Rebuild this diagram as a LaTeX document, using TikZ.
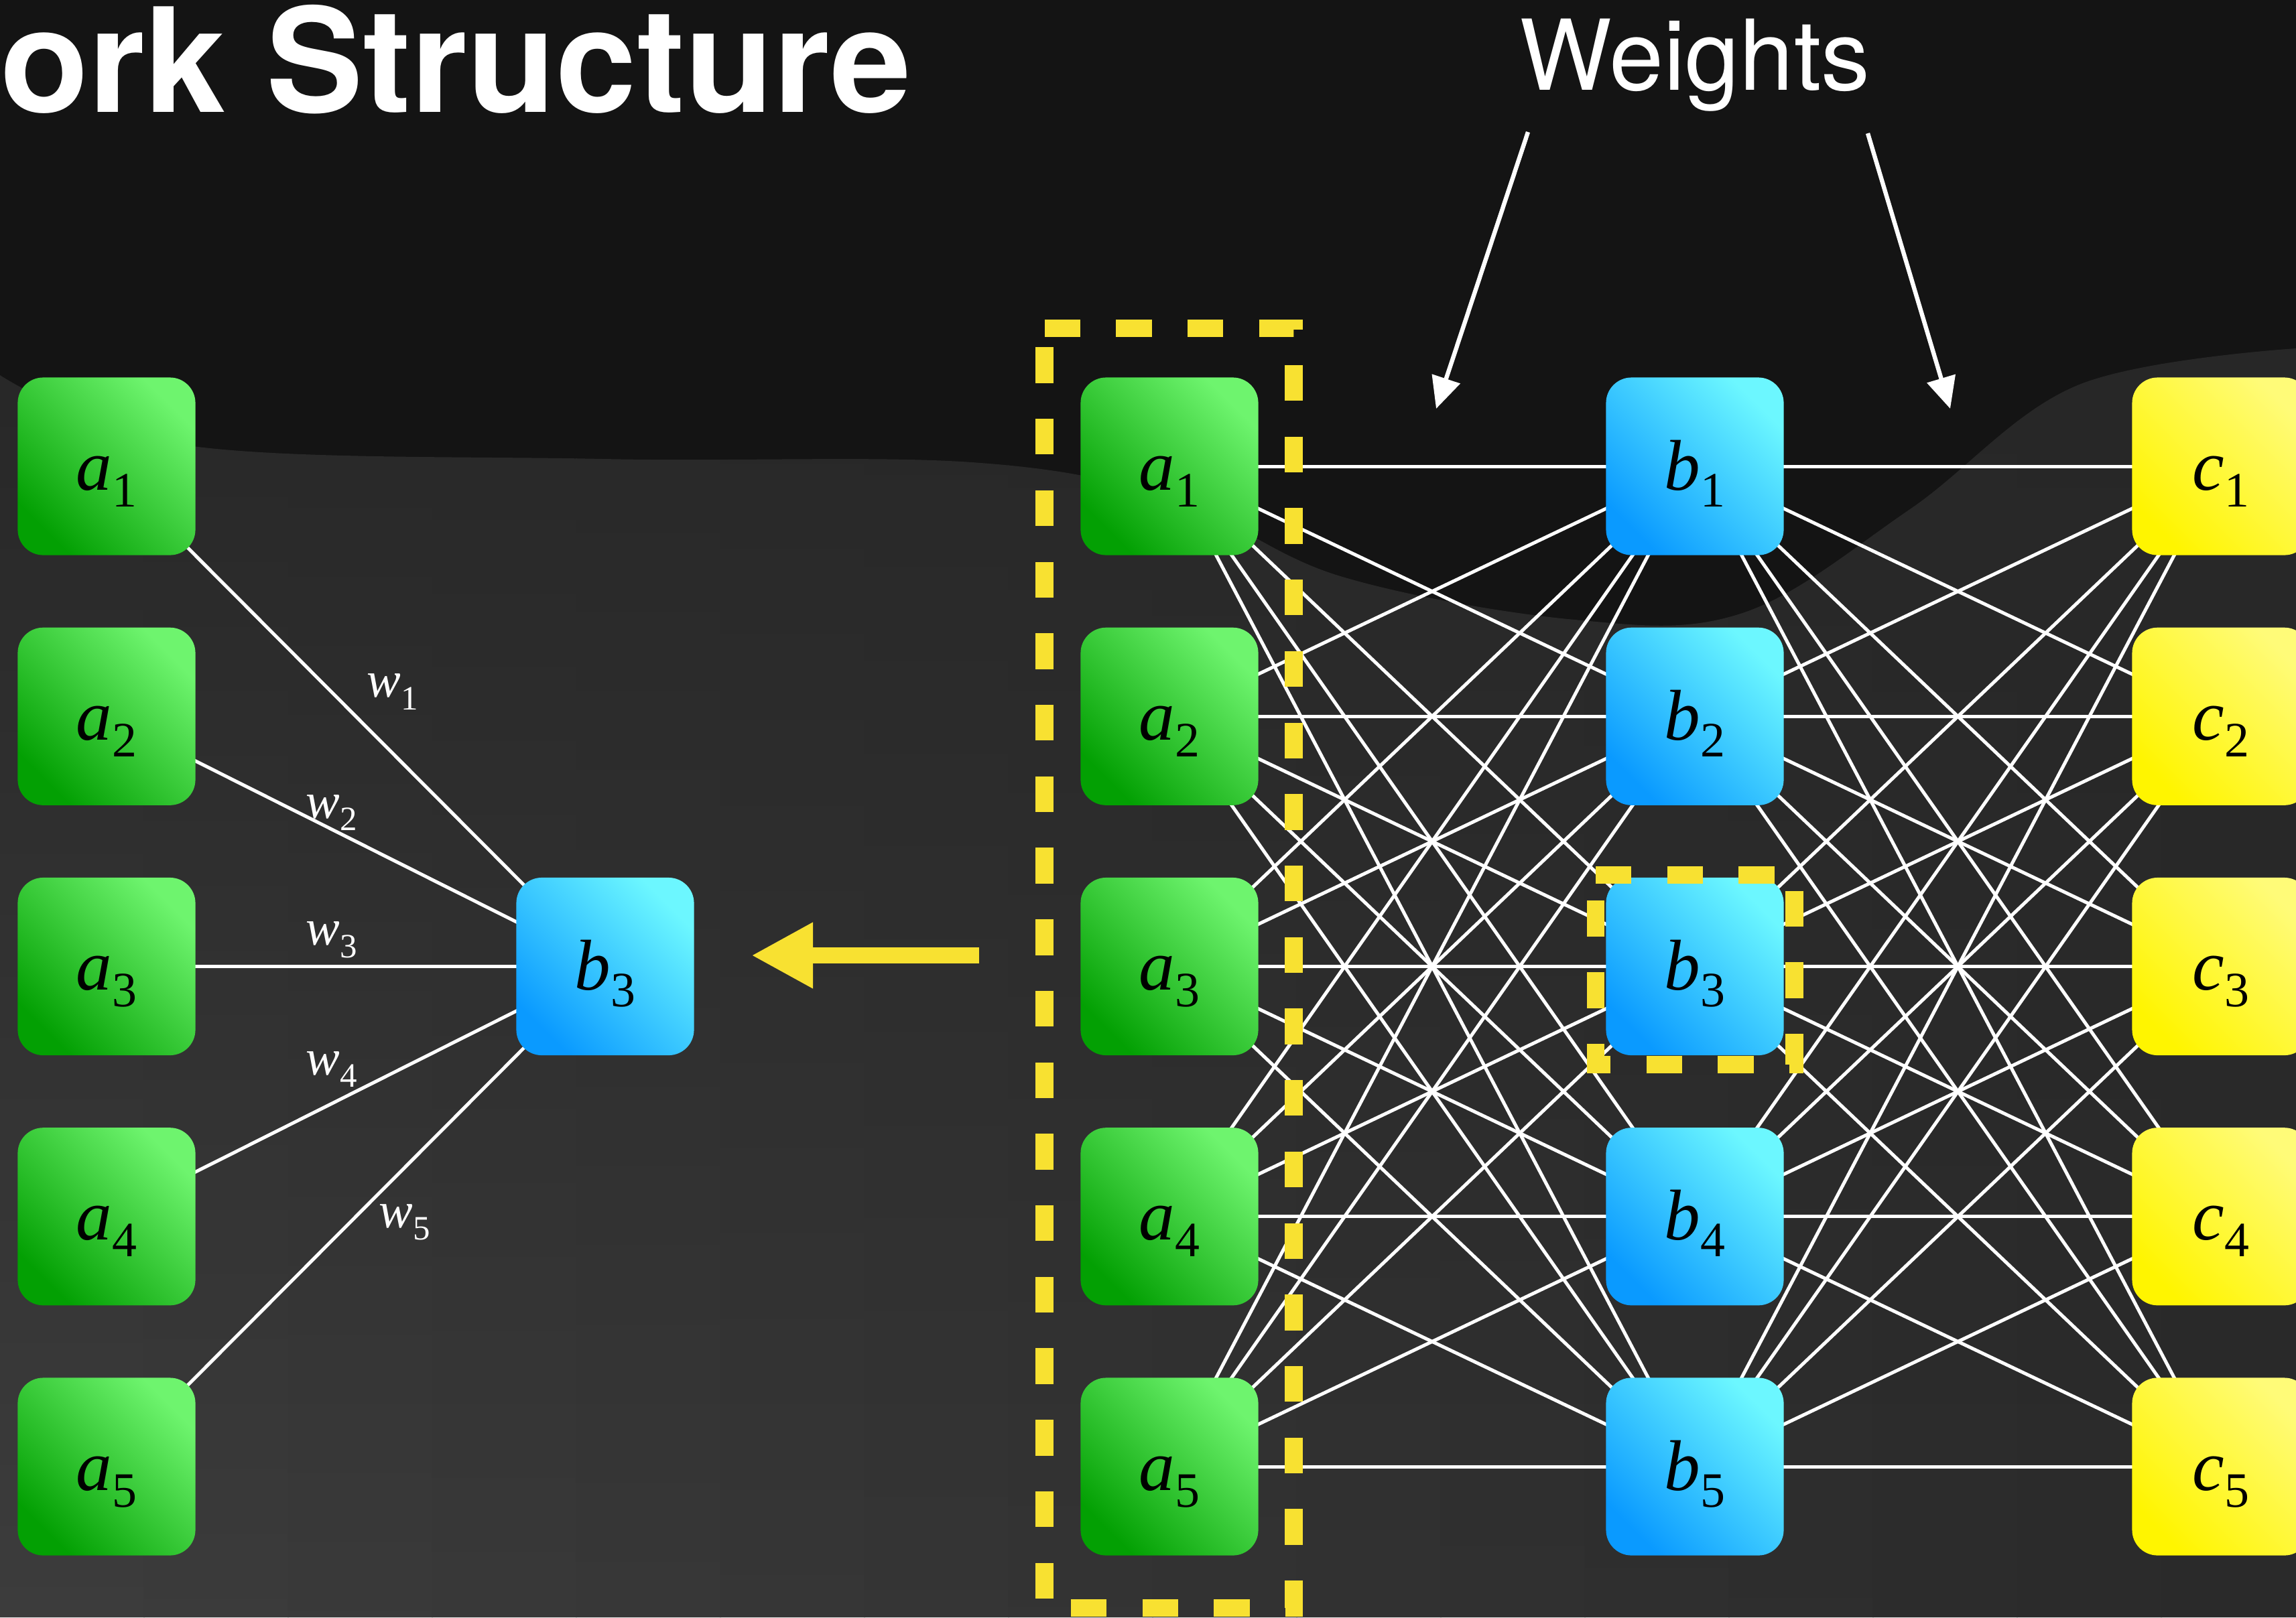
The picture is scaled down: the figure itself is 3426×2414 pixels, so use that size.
\documentclass[tikz,border=0pt]{standalone}
\usepackage{fontspec}
\setmainfont{Liberation Serif}
\newfontfamily\herosfont{TeX Gyre Heros}
\usetikzlibrary{arrows.meta}
\definecolor{bgdark}{HTML}{141414}
\definecolor{bgA}{HTML}{272727}
\definecolor{bgML}{HTML}{444444}
\definecolor{bgMR}{HTML}{3E3E3E}
\definecolor{bgBL}{HTML}{3C3C3C}
\definecolor{bgBR}{HTML}{2A2A2A}
\definecolor{gtop}{HTML}{6EF46E}
\definecolor{gbot}{HTML}{03A003}
\definecolor{btop}{HTML}{6CF7FF}
\definecolor{bbot}{HTML}{0A9AFF}
\definecolor{ytop}{HTML}{FFFB78}
\definecolor{ybot}{HTML}{FFF500}
\definecolor{hiyel}{HTML}{F8E131}
\pgfdeclarelayer{bglayer}
\pgfdeclarelayer{edgelayer}
\pgfsetlayers{bglayer,edgelayer,main}
\newcommand{\boxlab}[2]{{\fontsize{30.5}{32}\selectfont\itshape #1}{\raisebox{-7.1pt}{\fontsize{21}{22}\selectfont #2}}}
\newcommand{\wtlab}[1]{{\fontsize{21.6}{23}\selectfont\itshape w}{\raisebox{-5.3pt}{\fontsize{14.5}{15}\selectfont #1}}}
\tikzset{
  unitbox/.style={minimum width=2.65cm, minimum height=2.65cm, inner sep=0pt,
    rounded corners=0.38cm, text height=0.7cm, text depth=0pt, text=black},
  greenbox/.style={unitbox, top color=gtop, bottom color=gbot, shading angle=-45},
  bluebox/.style={unitbox, top color=btop, bottom color=bbot, shading angle=-45},
  yellowbox/.style={unitbox, top color=ytop, bottom color=ybot, shading angle=-45},
  wire/.style={draw=white, line width=0.05cm},
  seldash/.style={draw=hiyel, line width=0.265cm, dash pattern=on 0.5333cm off 0.5333cm, line join=miter},
  wlabel/.style={anchor=base west, inner sep=0pt, text=white},
  pointer/.style={draw=white, line width=0.064cm, -{Triangle[length=0.47cm, width=0.43cm]}},
}
\begin{document}
\begin{tikzpicture}[x=0.01cm, y=-0.01cm]
\useasboundingbox (0,0) rectangle (3426,2414);
\begin{pgfonlayer}{bglayer}
  \fill[bgdark] (0,0) rectangle (3426,2414);
  \begin{scope}
    \clip (0,2414) -- plot[smooth, tension=0.6] coordinates {(0,560) (280,665) (900,685) (1450,690) (1750,745) (2000,860) (2350,925) (2600,915) (2850,760) (3100,575) (3426,520)} -- (3426,2414) -- cycle;
    \foreach \k in {0,...,15} {
      \pgfmathsetmacro\pc{100-\k*100/15}
      \shade[top color=bgA, middle color=bgML!\pc!bgMR, bottom color=bgBL!\pc!bgBR]
        (\k*215-1,500) rectangle (\k*215+216,2414);
    }
  \end{scope}
\end{pgfonlayer}

% title texts
\node[anchor=base west, inner sep=0pt, text=white, font=\herosfont\bfseries\fontsize{61.5}{63}\selectfont] (title) at (0,167) {ork Structure};
\node[anchor=base west, inner sep=0pt, text=white, font=\herosfont\fontsize{41.5}{43}\selectfont] (weights) at (2267,134) {Weights};

% left small network
\foreach \i/\y in {1/696,2/1069.25,3/1442.5,4/1815.75,5/2189} {
  \node[greenbox] (la\i) at (159,\y) {\boxlab{a}{\i}};
}
\node[bluebox] (lb) at (903,1442.5) {\boxlab{b}{3}};

% right network
\foreach \i/\y in {1/696,2/1069.25,3/1442.5,4/1815.75,5/2189} {
  \node[greenbox] (ra\i) at (1745,\y) {\boxlab{a}{\i}};
  \node[bluebox] (rb\i) at (2529,\y) {\boxlab{b}{\i}};
  \node[yellowbox] (rc\i) at (3314,\y) {\boxlab{c}{\i}};
}

\begin{pgfonlayer}{edgelayer}
  \foreach \i in {1,...,5} {
    \draw[wire] (la\i.center) -- (lb.center);
    \foreach \j in {1,...,5} {
      \draw[wire] (ra\i.center) -- (rb\j.center);
      \draw[wire] (rb\i.center) -- (rc\j.center);
    }
  }
\end{pgfonlayer}

% weight labels
\node[wlabel] (w1) at (547,1040.6) {\wtlab{1}};
\node[wlabel] (w2) at (456,1221) {\wtlab{2}};
\node[wlabel] (w3) at (456,1410.5) {\wtlab{3}};
\node[wlabel] (w4) at (456,1604) {\wtlab{4}};
\node[wlabel] (w5) at (565,1832) {\wtlab{5}};

% selection rectangles
\draw[seldash] (1558.5,490) -- (1930.5,490) -- (1930.5,2400) -- (1558.5,2400) -- cycle;
\draw[seldash] (2381,1306) -- (2677.5,1306) -- (2677.5,1589) -- (2381,1589) -- cycle;

% yellow arrow
\coordinate (ytail) at (1461,1426);
\coordinate (yhead) at (1121,1426);
\draw[draw=hiyel, line width=0.237cm, -{Triangle[length=0.92cm, width=0.92cm]}] (ytail) -- (yhead);

% weights pointers
\coordinate (p1s) at (2280,197);
\coordinate (p1e) at (2143,610);
\coordinate (p2s) at (2787,199);
\coordinate (p2e) at (2910,610);
\draw[pointer] (p1s) -- (p1e);
\draw[pointer] (p2s) -- (p2e);
\end{tikzpicture}
\end{document}
